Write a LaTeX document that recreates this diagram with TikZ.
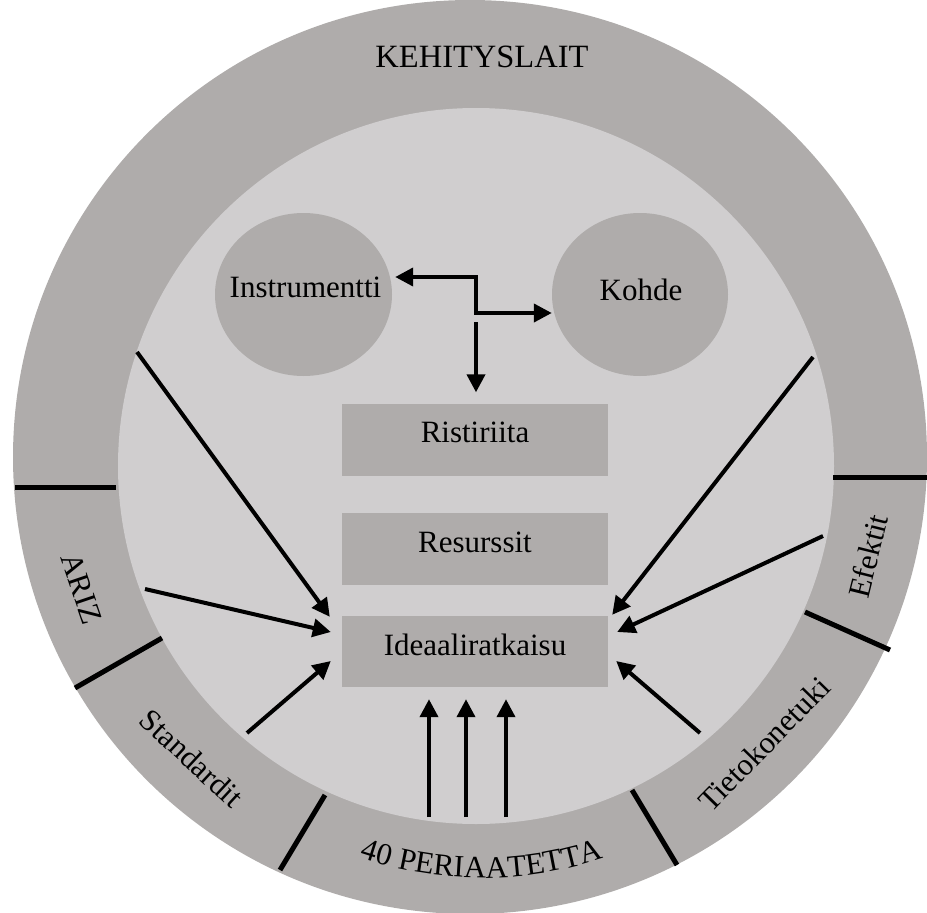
\documentclass[tikz,border=0pt]{standalone}
\usepackage{fontspec}
\setmainfont{Liberation Serif}
\usetikzlibrary{arrows.meta,shapes.geometric,calc,decorations.text}
\definecolor{ringgray}{RGB}{175,172,171}
\definecolor{innergray}{RGB}{208,206,207}
\newcommand{\lblfont}{\fontsize{31}{31}\selectfont}
\newcommand{\bigfont}{\fontsize{32.5}{32.5}\selectfont}

\begin{document}
\begin{tikzpicture}[x=1pt,y=1pt,
  lbl/.style={font=\lblfont, inner sep=0pt, anchor=base},
  sectorlbl/.style={font=\lblfont, inner sep=0pt, anchor=center},
  blob/.style={ellipse, fill=ringgray, inner sep=0pt, minimum width=177pt, minimum height=163pt},
  panel/.style={rectangle, fill=ringgray, inner sep=0pt, minimum width=266pt, minimum height=72pt},
  arr/.style={line width=4pt, -{Triangle[length=18pt,width=18pt]}},
  divider/.style={line width=5pt},
  ringtext/.style={decorate, decoration={text along path, text align=center, text={|\lblfont|#1}}}
]
\useasboundingbox (0,0) rectangle (927,-913);

% ring and inner disc
\coordinate (oc) at (470,-457);
\coordinate (ic) at (476,-466);
\fill[ringgray] (oc) circle[radius=457];
\fill[innergray] (ic) circle[radius=358];

% sector dividers across the ring
\draw[divider] (15,-487) -- (116,-487);
\draw[divider] (75,-688) -- (162,-638);
\draw[divider] (280,-870) -- (325,-795);
\draw[divider] (632,-790) -- (677,-865);
\draw[divider] (805,-612) -- (890,-650);
\draw[divider] (833,-477) -- (927,-477);

% ring labels
\node[lbl, font=\bigfont] (keh) at (482,-67) {KEHITYSLAIT};
\node[sectorlbl, rotate=-71.3] (ariz) at ($(oc)+(198.7:410)$) {ARIZ};
\node[sectorlbl, rotate=-42.7] (stand) at ($(oc)+(227.3:410)$) {Standardit};
\node[sectorlbl, rotate=45.7] (tieto) at ($(oc)+(315.7:411)$) {Tietokonetuki};
\node[sectorlbl, rotate=76] (efek) at ($(oc)+(346:410)$) {Efektit};
\coordinate (pc) at (482,-498);
\path[ringtext=40 PERIAATETTA] ($(pc)+(220:380)$) arc[start angle=220, end angle=320, radius=380];

% instrument and object
\node[blob] (instr) at (303.5,-294.5) {};
\node[lbl] (instr-t) at (305.5,-297) {Instrumentti};
\node[blob, minimum width=176pt] (kohde) at (640,-294.5) {};
\node[lbl] (kohde-t) at (641,-300) {Kohde};

% central panels
\node[panel] (rist) at (475,-439.5) {};
\node[lbl] (rist-t) at ($(rist.center)+(0,-2.5)$) {Ristiriita};
\node[panel] (resu) at (475,-549) {};
\node[lbl] (resu-t) at ($(resu.center)+(0,-3)$) {Resurssit};
\node[panel, minimum height=71pt] (ideal) at (475,-651.5) {};
\node[lbl] (ideal-t) at ($(ideal.center)+(0,-3.5)$) {Ideaaliratkaisu};

% elbow connector between instrument and object, and its branch down
\coordinate (j1) at (476,-277);
\coordinate (j2) at (476,-313);
\coordinate (j3) at (476,-322);
\draw[line width=4pt, {Triangle[length=18pt,width=18pt]}-{Triangle[length=18pt,width=18pt]}]
  ($(j1 -| instr.east)+(3,0)$) -- (j1) -- (j2) -- (j2 -| kohde.west);
\draw[arr] (j3) -- ($(rist.north)+(1,11)$);

% inputs from the ring sectors
\coordinate (s1) at (137,-352);
\coordinate (s2) at (145,-589);
\coordinate (s3) at (247,-733);
\coordinate (s4) at (813,-357);
\coordinate (s5) at (823,-536);
\coordinate (s6) at (700,-733);
\draw[arr] (s1) -- ($(ideal.north west)+(-12,-1)$);
\draw[arr] (s2) -- ($(ideal.west)+(-11,19.5)$);
\draw[arr] (s3) -- ($(ideal.west)+(-11,-9.5)$);
\draw[arr] (s4) -- ($(ideal.north east)+(4,1)$);
\draw[arr] (s5) -- ($(ideal.east)+(9,19.5)$);
\draw[arr] (s6) -- ($(ideal.east)+(8,-9.5)$);

% principles pushing up from below
\coordinate (p1) at (429,-817);
\coordinate (p2) at (466,-817);
\coordinate (p3) at (506,-817);
\coordinate (pt) at ($(ideal.south)+(0,-12)$);
\draw[arr] (p1) -- (p1 |- pt);
\draw[arr] (p2) -- (p2 |- pt);
\draw[arr] (p3) -- (p3 |- pt);
\end{tikzpicture}
\end{document}
